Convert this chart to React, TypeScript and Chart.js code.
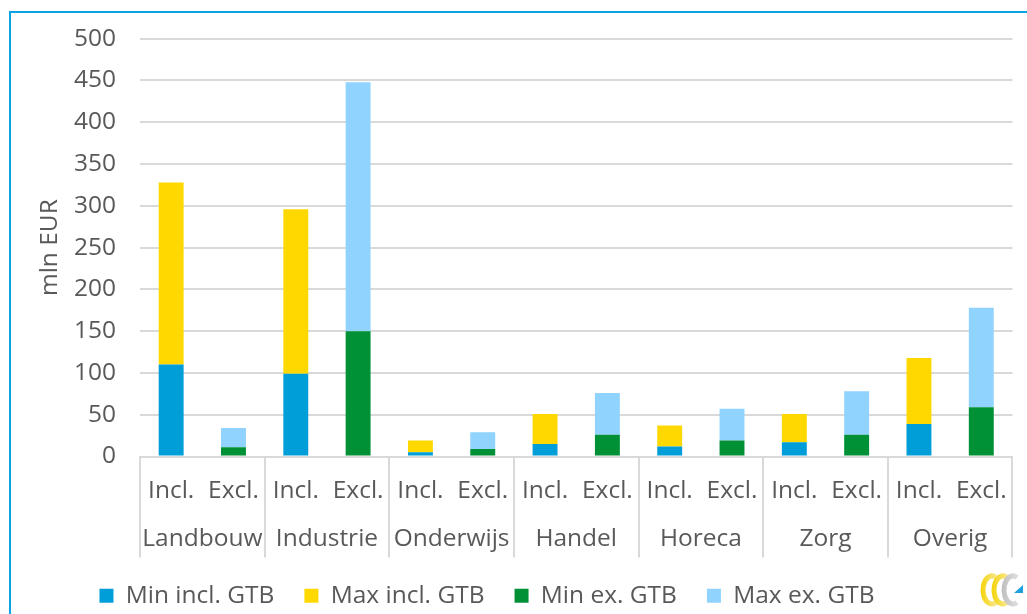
import React, { useEffect, useRef } from 'react';
import { Chart, registerables } from 'chart.js';

Chart.register(...registerables);

const sectors = ['Landbouw', 'Industrie', 'Onderwijs', 'Handel', 'Horeca', 'Zorg', 'Overig'];
const variants = ['Incl.', 'Excl.'];
const categories = sectors.flatMap(() => variants);

// stacked segment heights (mln EUR)
const minIncl = [110, null, 99, null, 5, null, 15, null, 12, null, 17, null, 39, null];
const maxIncl = [218, null, 197, null, 14, null, 36, null, 25, null, 34, null, 79, null];
const minEx = [null, 11, null, 150, null, 9, null, 26, null, 19, null, 26, null, 59];
const maxEx = [null, 23, null, 298, null, 20, null, 50, null, 38, null, 52, null, 119];

const seriesNames = ['Min incl. GTB', 'Max incl. GTB', 'Min ex. GTB', 'Max ex. GTB'];
const seriesColors = ['#009ed9', '#ffd800', '#009035', '#8fd3fe'];

const yMax = 500;
const yStep = 50;
const yTitle = 'mln EUR';

const FONT = "'Open Sans', 'DejaVu Sans', sans-serif";
const FS = 24.5;
const TEXT = '#595959';
const GRID = '#d9d9d9';

const separators = {
  id: 'separators',
  afterDraw(chart: any) {
    const { ctx, chartArea } = chart;
    const x2 = chart.scales.x2;
    const n = sectors.length;
    const w = (chartArea.right - chartArea.left) / n;
    ctx.save();
    ctx.strokeStyle = GRID;
    ctx.lineWidth = 2;
    for (let i = 0; i <= n; i++) {
      const x = Math.round(chartArea.left + i * w);
      ctx.beginPath();
      ctx.moveTo(x, chartArea.bottom);
      ctx.lineTo(x, x2.bottom + 4);
      ctx.stroke();
    }
    ctx.restore();
  },
};

const legendShift = {
  id: 'legendShift',
  afterLayout(chart: any) {
    const lg = chart.legend;
    if (lg) {
      lg.left -= 37;
      lg.right -= 37;
    }
  },
};

const logo = {
  id: 'logo',
  afterDraw(chart: any) {
    const { ctx, width, height } = chart;
    ctx.save();
    const cy = height - 24;
    const drawC = (cx: number, col1: string, col2: string) => {
      const g = ctx.createLinearGradient(cx - 12, cy, cx + 8, cy);
      g.addColorStop(0, col1);
      g.addColorStop(1, col2);
      ctx.strokeStyle = g;
      ctx.lineWidth = 5;
      ctx.beginPath();
      ctx.ellipse(cx, cy, 9, 14, 0, Math.PI * 0.35, Math.PI * 1.65);
      ctx.stroke();
    };
    drawC(width - 35, '#f5d300', '#f8ecb0');
    drawC(width - 24, '#f5d300', '#f8ecb0');
    drawC(width - 14, '#bdbdbd', '#e6e6e6');
    ctx.fillStyle = '#1e9fe0';
    ctx.beginPath();
    ctx.moveTo(width - 13, cy + 3);
    ctx.lineTo(width - 4, cy - 5);
    ctx.lineTo(width - 4, cy + 3);
    ctx.closePath();
    ctx.fill();
    ctx.restore();
  },
};

export default function App() {
  const ref = useRef<HTMLCanvasElement | null>(null);

  useEffect(() => {
    document.body.style.margin = '0';
    document.body.style.overflow = 'hidden';
    const canvas = ref.current;
    if (!canvas) return;
    Chart.defaults.font.family = FONT;
    Chart.defaults.font.size = FS;
    Chart.defaults.color = TEXT;
    const chart = new Chart(canvas, {
      type: 'bar',
      data: {
        labels: categories,
        datasets: seriesNames.map((name, i) => ({
          label: name,
          data: [minIncl, maxIncl, minEx, maxEx][i],
          backgroundColor: seriesColors[i],
          borderWidth: 0,
          barPercentage: 0.4,
          categoryPercentage: 1,
        })),
      },
      options: {
        animation: false,
        responsive: true,
        maintainAspectRatio: false,
        layout: { padding: { left: 30, right: 9, top: 32, bottom: -4 } },
        plugins: {
          tooltip: { enabled: false },
          legend: {
            position: 'bottom',
            labels: {
              boxWidth: 14,
              boxHeight: 14,
              padding: 30,
              color: TEXT,
              font: { size: FS, family: FONT },
            },
          },
        },
        scales: {
          x: {
            stacked: true,
            weight: 0,
            grid: { display: false, drawTicks: false },
            border: { display: true, color: GRID, width: 2 },
            ticks: { padding: 20, color: TEXT, maxRotation: 0, autoSkip: false },
            afterFit(s: any) { s.height = 57; },
          },
          x2: {
            type: 'category',
            labels: sectors,
            position: 'bottom',
            offset: true,
            weight: 1,
            grid: { display: false, drawTicks: false },
            border: { display: false },
            ticks: { padding: 11, color: TEXT, maxRotation: 0, autoSkip: false },
            afterFit(s: any) { s.height = 40; },
          },
          y: {
            stacked: true,
            min: 0,
            max: yMax,
            ticks: { stepSize: yStep, padding: 24, color: TEXT },
            grid: { color: GRID, lineWidth: 2, drawTicks: false },
            border: { display: false },
            title: { display: true, text: yTitle, color: TEXT, padding: { top: 5, bottom: 0 }, font: { size: FS, family: FONT } },
            afterFit(s: any) { s.width = 110; },
          },
        },
      },
      plugins: [separators, legendShift, logo],
    });
    return () => chart.destroy();
  }, []);

  return (
    <div style={{ position: 'fixed', left: 0, top: 0, width: 1027, height: 614, overflow: 'hidden', background: '#fff' }}>
      <canvas ref={ref} style={{ position: 'absolute', left: 0, top: 0 }} />
      <div style={{ position: 'absolute', left: 9, top: 11, width: 1100, height: 700, border: '2px solid #0ca3e6', pointerEvents: 'none' }} />
    </div>
  );
}
